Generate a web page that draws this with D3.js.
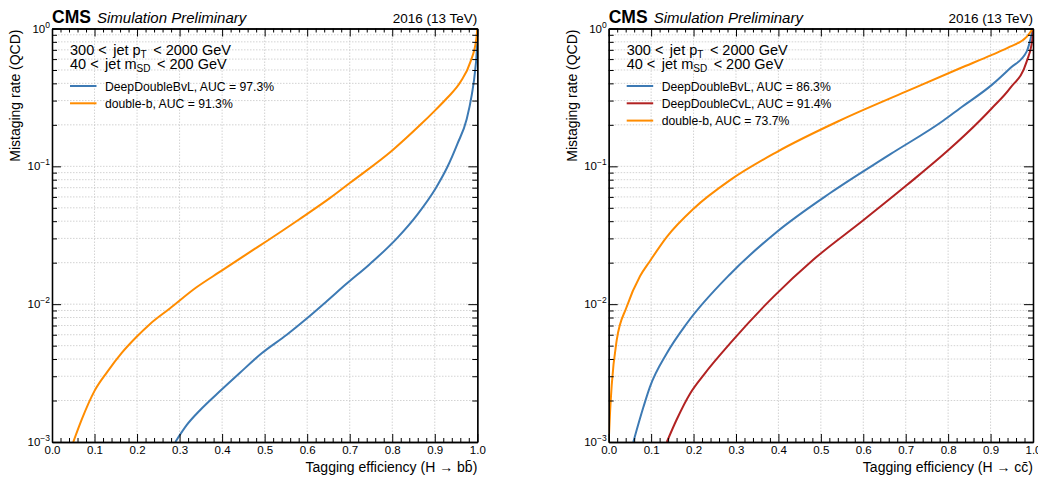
<!DOCTYPE html>
<html><head><meta charset="utf-8">
<script src="https://cdn.jsdelivr.net/npm/d3@7/dist/d3.min.js"></script>
<style>
body{margin:0;background:#fff}
svg{display:block}
text{font-family:"Liberation Sans",Arial,Helvetica,sans-serif;fill:#000}
</style>
</head><body>
<svg id="c" width="1038" height="477"></svg>
<script>
// ---------- data ----------
const xTickValues = [0.0,0.1,0.2,0.3,0.4,0.5,0.6,0.7,0.8,0.9,1.0];
const xTickLabels = ["0.0","0.1","0.2","0.3","0.4","0.5","0.6","0.7","0.8","0.9","1.0"];
const yTickExponents = [0,-1,-2,-3];
const yTickLabels = ["0","\u22121","\u22122","\u22123"];

// H -> bb panel
const bbDeepDoubleBvLEff = [0.290,0.317,0.348,0.399,0.442,0.493,0.552,0.599,0.646,0.693,0.747,0.812,0.859,0.903,0.929,0.953,0.975,0.987,0.995,0.999,1.0];
const bbDeepDoubleBvLMis = [0.0010,0.00133,0.0017,0.0024,0.00318,0.0044,0.0060,0.00787,0.0105,0.0141,0.0195,0.0303,0.0447,0.070,0.098,0.145,0.22,0.33,0.5,0.72,1.0];
const bbDoubleBEff = [0.050,0.070,0.100,0.130,0.164,0.199,0.230,0.277,0.339,0.399,0.457,0.508,0.580,0.654,0.701,0.802,0.866,0.902,0.929,0.961,0.984,0.998,1.0];
const bbDoubleBMis = [0.0010,0.00146,0.00235,0.00323,0.00443,0.0058,0.00716,0.0093,0.0132,0.0175,0.023,0.0291,0.041,0.059,0.076,0.132,0.200,0.257,0.313,0.412,0.575,0.85,1.0];
const bbLegendLabels = ["DeepDoubleBvL, AUC = 97.3%","double-b, AUC = 91.3%"];

// H -> cc panel
const ccDeepDoubleBvLEff = [0.058,0.082,0.097,0.137,0.184,0.286,0.396,0.522,0.663,0.789,0.828,0.903,0.946,0.985,1.0];
const ccDeepDoubleBvLMis = [0.0010,0.0018,0.0025,0.0044,0.00724,0.0165,0.0334,0.064,0.122,0.215,0.264,0.39,0.515,0.679,1.0];
const ccDeepDoubleCvLEff = [0.137,0.160,0.192,0.225,0.286,0.388,0.482,0.600,0.702,0.800,0.875,0.903,0.946,0.985,0.999,1.0];
const ccDeepDoubleCvLMis = [0.0010,0.00145,0.00225,0.0031,0.00519,0.0113,0.021,0.0406,0.0728,0.1306,0.215,0.264,0.369,0.575,0.851,1.0];
const ccDoubleBEff = [0.0,0.003,0.007,0.019,0.042,0.074,0.097,0.137,0.200,0.286,0.396,0.545,0.700,0.828,0.903,0.946,0.985,1.0];
const ccDoubleBMis = [0.0010,0.0016,0.00256,0.0055,0.0095,0.0160,0.0205,0.0308,0.0493,0.0794,0.127,0.215,0.348,0.515,0.643,0.738,0.87,1.0];
const ccLegendLabels = ["DeepDoubleBvL, AUC = 86.3%","DeepDoubleCvL, AUC = 91.4%","double-b, AUC = 73.7%"];

const colBlue = "#3d7ab4", colRed = "#b22222", colOrange = "#ff8c00";

// ---------- drawing ----------
const svg = d3.select("#c");

function panel(cfg){
  const L = cfg.left, R = cfg.right, T = 28.5, B = 442;
  const x = d3.scaleLinear().domain([0,1]).range([L,R]);
  const y = d3.scaleLog().domain([1e-3,1]).range([B,T]);
  const g = svg.append("g");
  const clipId = "clip"+cfg.id;
  svg.append("clipPath").attr("id",clipId).append("rect")
     .attr("x",L).attr("y",T).attr("width",R-L).attr("height",B-T);

  // grid
  const minorY = [];
  for (let e=-3;e<0;e++) for (let k=2;k<=9;k++) minorY.push(k*Math.pow(10,e));
  const majorY = yTickExponents.map(e=>Math.pow(10,e));
  const gridG = g.append("g").attr("stroke","#c8c8c8").attr("stroke-width",0.8).attr("stroke-dasharray","1.5,1.5");
  gridG.selectAll(".gx").data(xTickValues.slice(1,-1)).join("line")
     .attr("x1",d=>x(d)).attr("x2",d=>x(d)).attr("y1",T).attr("y2",B);
  gridG.selectAll(".gy").data(majorY.concat(minorY).filter(v=>v>1e-3&&v<1)).join("line")
     .attr("y1",d=>y(d)).attr("y2",d=>y(d)).attr("x1",L).attr("x2",R);

  // curves
  const line = d3.line().curve(d3.curveMonotoneX).x(d=>x(d[0])).y(d=>y(d[1]));
  const cg = g.append("g").attr("clip-path",`url(#${clipId})`);
  cfg.series.forEach(s=>{
    cg.append("path").datum(d3.zip(s.eff,s.mis)).attr("d",line)
      .attr("fill","none").attr("stroke",s.color).attr("stroke-width",2).attr("stroke-linejoin","round");
  });

  // axes (inward ticks)
  const minorX = d3.range(0,51).map(i=>i/50).filter(v=>Math.round(v*50)%5!==0);
  const axStyle = sel=>{ sel.select(".domain").attr("stroke","#000").attr("stroke-width",1.3);
                          sel.selectAll(".tick line").attr("stroke","#000").attr("stroke-width",1); };
  const xb = g.append("g").attr("transform",`translate(0,${B})`)
     .call(d3.axisBottom(x).tickValues(xTickValues).tickSize(-8).tickSizeOuter(0).tickPadding(4)
           .tickFormat((d,i)=>xTickLabels[i]));
  xb.call(axStyle); xb.selectAll("text").attr("font-size",11.5).attr("font-family",'"Liberation Sans",Arial,sans-serif').attr("fill","#000");
  g.append("g").attr("transform",`translate(0,${B})`)
     .call(d3.axisBottom(x).tickValues(minorX).tickSize(-4).tickSizeOuter(0).tickFormat("")).call(axStyle);
  g.append("g").attr("transform",`translate(0,${T})`)
     .call(d3.axisTop(x).tickValues(xTickValues).tickSize(-8).tickSizeOuter(0).tickFormat("")).call(axStyle);
  g.append("g").attr("transform",`translate(0,${T})`)
     .call(d3.axisTop(x).tickValues(minorX).tickSize(-4).tickSizeOuter(0).tickFormat("")).call(axStyle);
  g.append("g").attr("transform",`translate(${L},0)`)
     .call(d3.axisLeft(y).tickValues(majorY).tickSize(-9).tickSizeOuter(0).tickFormat("")).call(axStyle);
  g.append("g").attr("transform",`translate(${L},0)`)
     .call(d3.axisLeft(y).tickValues(minorY).tickSize(-5).tickSizeOuter(0).tickFormat("")).call(axStyle);
  g.append("g").attr("transform",`translate(${R},0)`)
     .call(d3.axisRight(y).tickValues(majorY).tickSize(-9).tickSizeOuter(0).tickFormat("")).call(axStyle);
  g.append("g").attr("transform",`translate(${R},0)`)
     .call(d3.axisRight(y).tickValues(minorY).tickSize(-5).tickSizeOuter(0).tickFormat("")).call(axStyle);

  // y tick labels 10^e
  yTickExponents.forEach((e,i)=>{
    const t = g.append("text").attr("x",L-2).attr("y",y(Math.pow(10,e))+4)
      .attr("text-anchor","end").attr("font-size",11.5);
    t.append("tspan").text("10");
    t.append("tspan").attr("dy",-5).attr("font-size",8.5).text(yTickLabels[i]);
  });

  // header
  g.append("text").attr("x",L).attr("y",23).attr("font-size",17.5).attr("font-weight","bold").text("CMS");
  g.append("text").attr("x",L+45).attr("y",23).attr("font-size",15).attr("font-style","italic").text("Simulation Preliminary");
  g.append("text").attr("x",R).attr("y",23).attr("font-size",13.5).attr("text-anchor","end").text("2016 (13 TeV)");

  // axis titles
  g.append("text").attr("transform",`translate(${L-32},${T+1}) rotate(-90)`)
    .attr("text-anchor","end").attr("font-size",14).text("Mistaging rate (QCD)");
  g.append("text").attr("x",R).attr("y",472).attr("text-anchor","end").attr("font-size",14)
    .text(cfg.xlabel);

  // selection text
  const fs = 14.5;
  const s1 = g.append("text").attr("x",L+18).attr("y",55).attr("font-size",fs);
  s1.append("tspan").text("300");
  s1.append("tspan").attr("dx",4).text("<");
  s1.append("tspan").attr("dx",6.5).text("jet p");
  s1.append("tspan").attr("dy",3).attr("font-size",10).text("T");
  s1.append("tspan").attr("dy",-3).attr("dx",6.5).text("<");
  s1.append("tspan").attr("dx",4).text("2000 GeV");
  const s2 = g.append("text").attr("x",L+18).attr("y",69).attr("font-size",fs);
  s2.append("tspan").text("40");
  s2.append("tspan").attr("dx",4).text("<");
  s2.append("tspan").attr("dx",6.5).text("jet m");
  s2.append("tspan").attr("dy",3).attr("font-size",10).text("SD");
  s2.append("tspan").attr("dy",-3).attr("dx",6.5).text("<");
  s2.append("tspan").attr("dx",4).text("200 GeV");

  // legend
  cfg.legend.forEach((lab,i)=>{
    const yy = 86 + i*17.3;
    g.append("line").attr("x1",L+18).attr("x2",L+44.5).attr("y1",yy).attr("y2",yy)
      .attr("stroke",cfg.legendColors[i]).attr("stroke-width",2);
    g.append("text").attr("x",L+53).attr("y",yy+4.5).attr("font-size",12.2).text(lab);
  });
}

panel({id:"bb", left:52, right:477.3,
  xlabel:"Tagging efficiency (H \u2192  bb\u0304)",
  series:[
    {eff:bbDeepDoubleBvLEff, mis:bbDeepDoubleBvLMis, color:colBlue},
    {eff:bbDoubleBEff, mis:bbDoubleBMis, color:colOrange}],
  legend:bbLegendLabels, legendColors:[colBlue,colOrange]});

panel({id:"cc", left:608.7, right:1033,
  xlabel:"Tagging efficiency (H \u2192  cc\u0304)",
  series:[
    {eff:ccDeepDoubleBvLEff, mis:ccDeepDoubleBvLMis, color:colBlue},
    {eff:ccDeepDoubleCvLEff, mis:ccDeepDoubleCvLMis, color:colRed},
    {eff:ccDoubleBEff, mis:ccDoubleBMis, color:colOrange}],
  legend:ccLegendLabels, legendColors:[colBlue,colRed,colOrange]});
</script>
</body></html>
